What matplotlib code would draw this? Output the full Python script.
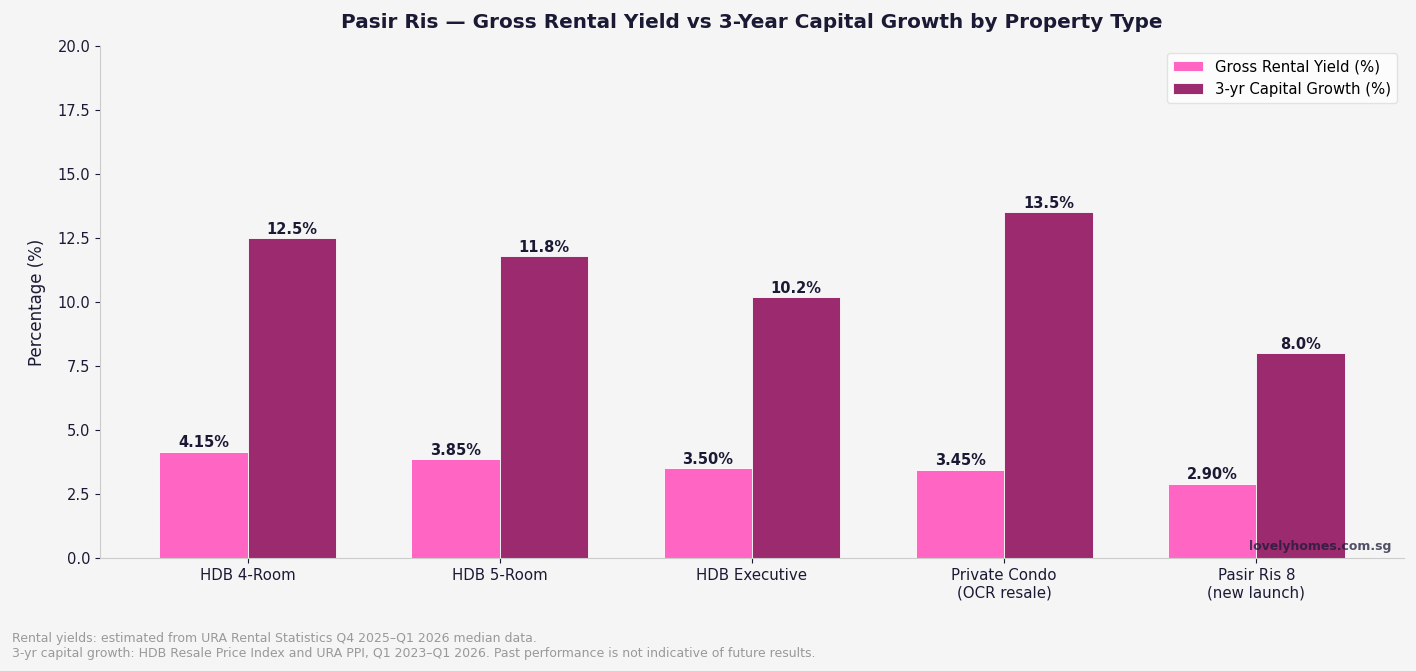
import matplotlib
matplotlib.use("Agg")
import matplotlib.pyplot as plt
import numpy as np

categories = ["HDB 4-Room", "HDB 5-Room", "HDB Executive", "Private Condo\n(OCR resale)", "Pasir Ris 8\n(new launch)"]
rental_yield = [4.15, 3.85, 3.50, 3.45, 2.90]
capital_growth = [12.5, 11.8, 10.2, 13.5, 8.0]
yield_labels = ["4.15%", "3.85%", "3.50%", "3.45%", "2.90%"]
growth_labels = ["12.5%", "11.8%", "10.2%", "13.5%", "8.0%"]

BG = "#f5f5f5"
TXT = "#1a1a35"
fig = plt.figure(figsize=(14.16, 6.71), dpi=100, facecolor=BG)
ax = fig.add_axes([100/1416, 1-558/671, 1304/1416, 512/671])
ax.set_facecolor(BG)

x = np.arange(len(categories))
w = 0.35
b1 = ax.bar(x - w/2, rental_yield, w, color="#ff66c4", edgecolor="white", linewidth=0.6, label="Gross Rental Yield (%)")
b2 = ax.bar(x + w/2, capital_growth, w, color="#9b2a6e", edgecolor="white", linewidth=0.6, label="3-yr Capital Growth (%)")

for r, t in zip(b1, yield_labels):
    ax.text(r.get_x() + r.get_width()/2, r.get_height() + 0.05, t, ha="center", va="bottom", fontsize=10.5, fontweight="bold", color=TXT)
for r, t in zip(b2, growth_labels):
    ax.text(r.get_x() + r.get_width()/2, r.get_height() + 0.05, t, ha="center", va="bottom", fontsize=10.5, fontweight="bold", color=TXT)

ax.set_ylim(0, 20)
ax.set_yticks(np.arange(0, 20.1, 2.5))
ax.set_xticks(x)
ax.set_xticklabels(categories, fontsize=10.8, color=TXT)
ax.tick_params(axis="y", labelsize=10.5, colors=TXT)
ax.tick_params(axis="x", colors=TXT)
for s in ["top", "right"]:
    ax.spines[s].set_visible(False)
for s in ["left", "bottom"]:
    ax.spines[s].set_color("#cccccc")
ax.set_ylabel("Percentage (%)", fontsize=12, color=TXT, labelpad=8)
ax.set_title("Pasir Ris \u2014 Gross Rental Yield vs 3-Year Capital Growth by Property Type", fontsize=14.4, fontweight="bold", color=TXT, pad=13)

leg = ax.legend(loc="upper right", fontsize=10.7, frameon=True, facecolor="white", edgecolor="#dddddd")
for t in leg.get_texts():
    t.set_color("black")

ax.text(0.99, 0.01, "lovelyhomes.com.sg", transform=ax.transAxes, ha="right", va="bottom", fontsize=9, fontweight="bold", color="#1a1a35", alpha=0.75)

fig.text(12/1416, 1-646/671, "Rental yields: estimated from URA Rental Statistics Q4 2025\u2013Q1 2026 median data.\n3-yr capital growth: HDB Resale Price Index and URA PPI, Q1 2023\u2013Q1 2026. Past performance is not indicative of future results.",
         fontsize=9, color="#999999", ha="left", va="center", linespacing=1.2)

fig.savefig("out.png", dpi=100, facecolor=BG)
